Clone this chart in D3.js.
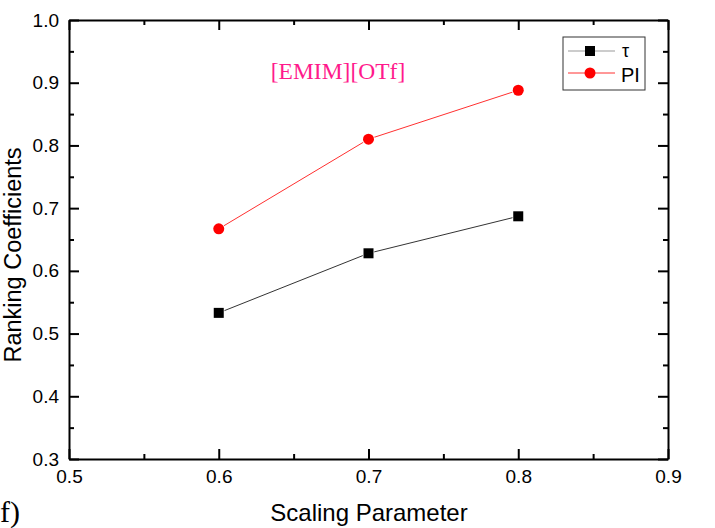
<!DOCTYPE html>
<html><head><meta charset="utf-8">
<script src="https://d3js.org/d3.v7.min.js"></script>
<style>body{margin:0;background:#fff}</style>
</head><body>
<script>
const xValues = [0.6, 0.7, 0.8];
const tauValues = [0.533, 0.628, 0.687];
const piValues = [0.667, 0.810, 0.888];
const seriesNames = ["τ", "PI"];
const xTicks = [0.5, 0.6, 0.7, 0.8, 0.9];
const yTicks = [0.3, 0.4, 0.5, 0.6, 0.7, 0.8, 0.9, 1.0];

(function () {
const W = 715, H = 528;
const m = {l: 69, r: 47, t: 20, b: 69};
const svg = d3.select("body").append("svg").attr("width", W).attr("height", H);
const x = d3.scaleLinear().domain([0.5, 0.9]).range([m.l, W - m.r]);
const y = d3.scaleLinear().domain([0.3, 1.0]).range([H - m.b, m.t]);

const xMinor = d3.range(0.55, 0.9, 0.1);
const yMinor = d3.range(0.35, 1.0, 0.1);
const font = "Arial, 'Liberation Sans', sans-serif";

svg.append("g").attr("transform", `translate(0,${y(0.3)})`)
  .call(d3.axisBottom(x).tickValues(xTicks).tickFormat(d3.format(".1f")).tickSizeInner(-10).tickSizeOuter(0).tickPadding(11));
svg.append("g").attr("transform", `translate(${x(0.5)},0)`)
  .call(d3.axisLeft(y).tickValues(yTicks).tickFormat(d3.format(".1f")).tickSizeInner(-10).tickSizeOuter(0).tickPadding(10));
svg.append("g").attr("transform", `translate(0,${y(1.0)})`)
  .call(d3.axisTop(x).tickValues(xTicks).tickFormat("").tickSizeInner(-10).tickSizeOuter(0));
svg.append("g").attr("transform", `translate(${x(0.9)},0)`)
  .call(d3.axisRight(y).tickValues(yTicks).tickFormat("").tickSizeInner(-10).tickSizeOuter(0));
svg.append("g").attr("transform", `translate(0,${y(0.3)})`).call(d3.axisBottom(x).tickValues(xMinor).tickFormat("").tickSizeInner(-5).tickSizeOuter(0)).select(".domain").remove();
svg.append("g").attr("transform", `translate(0,${y(1.0)})`).call(d3.axisTop(x).tickValues(xMinor).tickFormat("").tickSizeInner(-5).tickSizeOuter(0)).select(".domain").remove();
svg.append("g").attr("transform", `translate(${x(0.5)},0)`).call(d3.axisLeft(y).tickValues(yMinor).tickFormat("").tickSizeInner(-5).tickSizeOuter(0)).select(".domain").remove();
svg.append("g").attr("transform", `translate(${x(0.9)},0)`).call(d3.axisRight(y).tickValues(yMinor).tickFormat("").tickSizeInner(-5).tickSizeOuter(0)).select(".domain").remove();

svg.selectAll(".domain").attr("stroke", "#000").attr("stroke-width", 2);
svg.selectAll(".tick line").attr("stroke", "#000").attr("stroke-width", 2);
svg.selectAll(".tick text").attr("font-family", font).attr("font-size", 19).attr("fill", "#000");

const line = d3.line().x((d, i) => x(xValues[i])).y(d => y(d));
svg.append("path").datum(tauValues).attr("d", line).attr("fill", "none").attr("stroke", "#333").attr("stroke-width", 1);
svg.append("path").datum(piValues).attr("d", line).attr("fill", "none").attr("stroke", "#ff3030").attr("stroke-width", 1);

svg.selectAll(".sq").data(tauValues).enter().append("rect")
  .attr("x", (d, i) => x(xValues[i]) - 5).attr("y", d => y(d) - 5).attr("width", 10).attr("height", 10)
  .attr("fill", "#000").attr("stroke", "#fff").attr("stroke-width", 1.5).attr("paint-order", "stroke");
svg.selectAll(".ci").data(piValues).enter().append("circle")
  .attr("cx", (d, i) => x(xValues[i])).attr("cy", d => y(d)).attr("r", 5.5)
  .attr("fill", "#ff0000").attr("stroke", "#fff").attr("stroke-width", 1.5).attr("paint-order", "stroke");

const lg = svg.append("g");
lg.append("rect").attr("x", 563).attr("y", 37).attr("width", 82).attr("height", 53).attr("fill", "#fff").attr("stroke", "#333").attr("stroke-width", 1);
lg.append("line").attr("x1", 568).attr("x2", 615).attr("y1", 51).attr("y2", 51).attr("stroke", "#999").attr("stroke-width", 1);
lg.append("rect").attr("x", 585).attr("y", 46).attr("width", 10).attr("height", 10).attr("fill", "#000");
lg.append("line").attr("x1", 568).attr("x2", 615).attr("y1", 73).attr("y2", 73).attr("stroke", "#ff3030").attr("stroke-width", 1);
lg.append("circle").attr("cx", 590).attr("cy", 73).attr("r", 5.5).attr("fill", "#ff0000");
lg.append("text").attr("x", 622).attr("y", 57).text(seriesNames[0]).attr("font-family", font).attr("font-size", 18);
lg.append("text").attr("x", 621).attr("y", 82).text(seriesNames[1]).attr("font-family", font).attr("font-size", 20);

svg.append("text").attr("x", 338).attr("y", 79).attr("text-anchor", "middle").text("[EMIM][OTf]")
  .attr("font-family", "'Times New Roman', 'Liberation Serif', serif").attr("font-size", 23.5).attr("fill", "#ff1a8c");

svg.append("text").attr("x", 369).attr("y", 521).attr("text-anchor", "middle").text("Scaling Parameter")
  .attr("font-family", font).attr("font-size", 24);
svg.append("text").attr("transform", `translate(21,255) rotate(-90)`).attr("text-anchor", "middle").text("Ranking Coefficients")
  .attr("font-family", font).attr("font-size", 23.5);

svg.append("text").attr("x", 0).attr("y", 522).text("f)")
  .attr("font-family", "'Times New Roman', 'Liberation Serif', serif").attr("font-size", 30);
})();
</script>
</body></html>
